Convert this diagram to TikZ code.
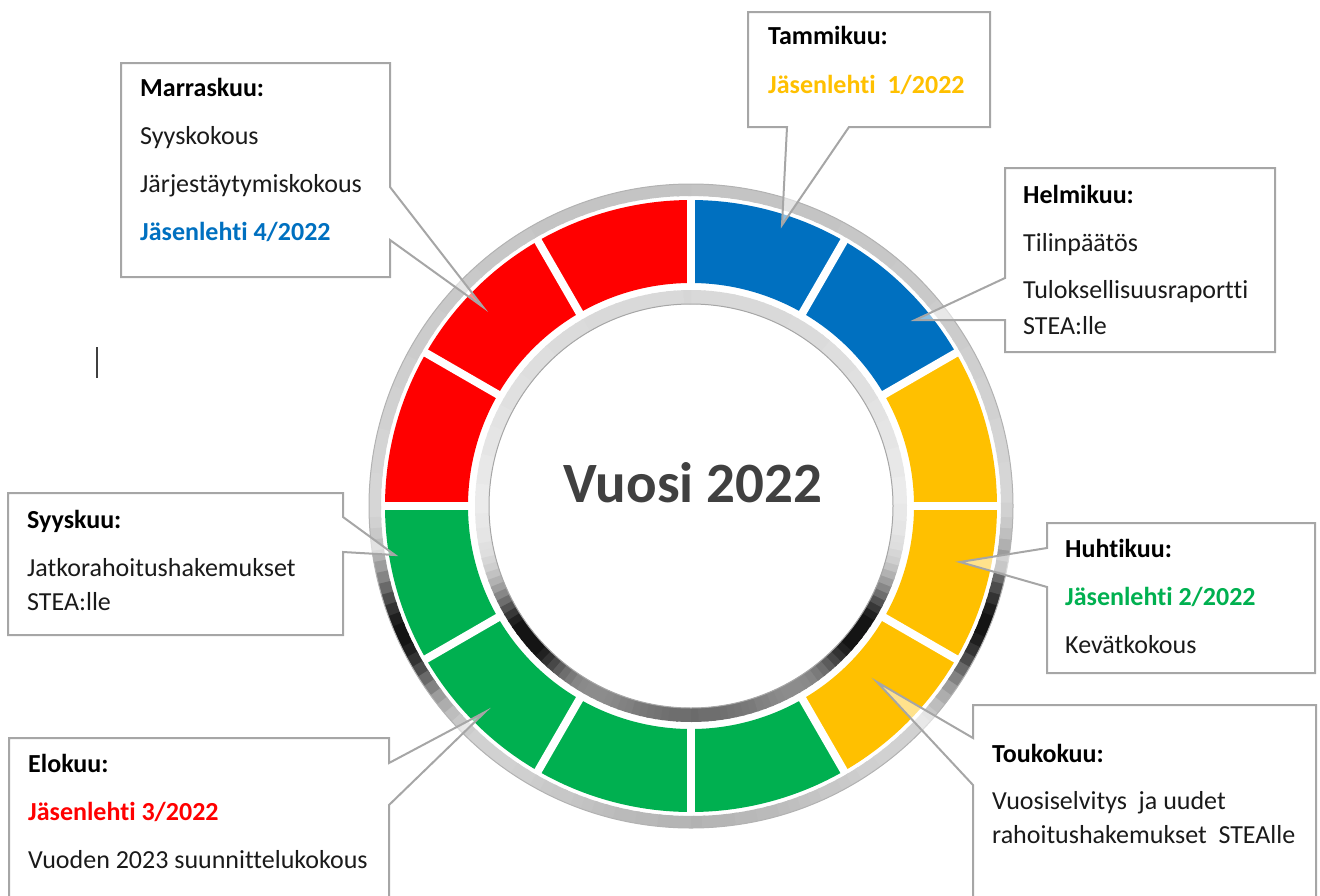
\documentclass[tikz,border=0pt]{standalone}
\usepackage{fontspec}
\setmainfont{Carlito}[Ligatures=NoCommon]
\definecolor{cblue}{HTML}{0070C0}
\definecolor{cyellow}{HTML}{FFC000}
\definecolor{cgreen}{HTML}{00B050}
\definecolor{cred}{HTML}{FF0000}
\definecolor{cborder}{HTML}{A6A6A6}
\definecolor{ctext}{HTML}{1A1A1A}
\definecolor{ccenter}{HTML}{404040}
\definecolor{ccursor}{HTML}{404040}
\tikzset{
  callout/.style={draw=cborder, line width=2pt, fill=white, fill opacity=0.55, line join=miter},
  lbl/.style={anchor=base west, inner sep=0pt, text=ctext, font=\fontsize{26}{30}\selectfont},
  hd/.style={anchor=base west, inner sep=0pt, text=black, font=\fontsize{26}{30}\selectfont\bfseries},
  mag/.style={anchor=base west, inner sep=0pt, font=\fontsize{26}{30}\selectfont\bfseries},
}
\begin{document}
\begin{tikzpicture}[x=1pt,y=-1pt]
\useasboundingbox (0,0) rectangle (1320,895);
\clip (0,0) rectangle (1320,895);
\coordinate (C) at (691,506);
\begin{scope}[shift={(C)}]
  % outer metallic band
  \foreach \a in {0,2,...,358}{
    \pgfmathsetmacro\b{\a+2.6}
    \pgfmathtruncatemacro\dk{\a<180 ? 16+8*sin(\a) : min(92, 15+78*exp(-min(((\a-203)/12)^2,9))+78*exp(-min(((\a-337)/12)^2,9))+15*exp(-min(((\a-270)/30)^2,9)))}
    \fill[black!\dk!white] (\a:322pt) arc[start angle=\a, end angle=\b, radius=322pt] -- (\b:310pt) arc[start angle=\b, end angle=\a, radius=310pt] -- cycle;
  }
  % inner metallic band
  \foreach \a in {0,2,...,358}{
    \pgfmathsetmacro\b{\a+2.6}
    \pgfmathtruncatemacro\dk{\a<180 ? 8+8*sin(\a) : min(92, 8+80*exp(-min(((\a-217)/14)^2,9))+80*exp(-min(((\a-323)/14)^2,9))+50*exp(-min(((\a-270)/45)^2,9)))}
    \fill[black!\dk!white] (\a:216pt) arc[start angle=\a, end angle=\b, radius=216pt] -- (\b:202pt) arc[start angle=\b, end angle=\a, radius=202pt] -- cycle;
  }
  \draw[black!30, line width=1pt] (0pt,0pt) circle[radius=322pt];
  \draw[black!35, line width=1pt] (0pt,0pt) circle[radius=202pt];
  % month segments
  \foreach \a/\col in {0/cyellow,30/cblue,60/cblue,90/cred,120/cred,150/cred,180/cgreen,210/cgreen,240/cgreen,270/cgreen,300/cyellow,330/cyellow}{
    \pgfmathsetmacro\b{\a+30}
    \fill[\col] (\a:306pt) arc[start angle=\a, end angle=\b, radius=306pt] -- (\b:223pt) arc[start angle=\b, end angle=\a, radius=223pt] -- cycle;
  }
  \foreach \a in {0,30,...,330}
    \draw[white, line width=8pt] (\a:219pt) -- (\a:309pt);
\end{scope}

\node[font=\fontsize{57}{60}\selectfont\bfseries, text=ccenter, anchor=base, inner sep=0pt] (title) at (693,502) {Vuosi 2022};

% cursor mark
\draw[ccursor, line width=1.5pt] (97,347) -- (97,378);

% Tammikuu
\draw[callout] (748,12) -- (990,12) -- (990,127) -- (849,127) -- (782,225) -- (787,127) -- (748,127) -- cycle;
\node[hd] (jan1) at (768,44) {Tammikuu:};
\node[mag, text=cyellow] (jan2) at (768,93) {Jäsenlehti\hspace{6pt} 1/2022};

% Helmikuu
\draw[callout] (1005,168) -- (1275,168) -- (1275,352) -- (1005,352) -- (1005,320) -- (915,320) -- (1005,278) -- cycle;
\node[hd] (feb1) at (1023,203) {Helmikuu:};
\node[lbl] (feb2) at (1023,251) {Tilinpäätös};
\node[lbl] (feb3) at (1023,298) {Tuloksellisuusraportti};
\node[lbl] (feb4) at (1023,334) {STEA:lle};

% Marraskuu
\draw[callout] (121,63) -- (390,63) -- (390,187) -- (483,307) -- (390,240) -- (390,277) -- (121,277) -- cycle;
\node[hd] (nov1) at (140,96) {Marraskuu:};
\node[lbl] (nov2) at (140,144) {Syyskokous};
\node[lbl] (nov3) at (140,192) {Järjestäytymiskokous};
\node[mag, text=cblue] (nov4) at (140,240) {Jäsenlehti 4/2022};

% Syyskuu
\draw[callout] (8,493) -- (343,493) -- (343,517) -- (395,555) -- (343,552) -- (343,635) -- (8,635) -- cycle;
\node[hd] (sep1) at (27,528) {Syyskuu:};
\node[lbl] (sep2) at (27,576) {Jatkorahoitushakemukset};
\node[lbl] (sep3) at (27,610) {STEA:lle};

% Elokuu
\draw[callout] (9,738) -- (389,738) -- (389,763) -- (485,712) -- (389,805) -- (389,910) -- (9,910) -- cycle;
\node[hd] (aug1) at (28,772) {Elokuu:};
\node[mag, text=cred] (aug2) at (28,820) {Jäsenlehti 3/2022};
\node[lbl] (aug3) at (28,868) {Vuoden 2023 suunnittelukokous};

% Huhtikuu
\draw[callout] (1047,523) -- (1315,523) -- (1315,673) -- (1047,673) -- (1047,587) -- (960,562) -- (1047,548) -- cycle;
\node[hd] (apr1) at (1065,557) {Huhtikuu:};
\node[mag, text=cgreen] (apr2) at (1065,605) {Jäsenlehti 2/2022};
\node[lbl] (apr3) at (1065,653) {Kevätkokous};

% Toukokuu
\draw[callout] (973,705) -- (1316,705) -- (1316,910) -- (973,910) -- (973,785) -- (877,682) -- (973,738) -- cycle;
\node[hd] (may1) at (992,762) {Toukokuu:};
\node[lbl] (may2) at (992,809) {Vuosiselvitys\ \ ja uudet};
\node[lbl] (may3) at (992,843) {rahoitushakemukset\ \ STEAlle};
\end{tikzpicture}
\end{document}
